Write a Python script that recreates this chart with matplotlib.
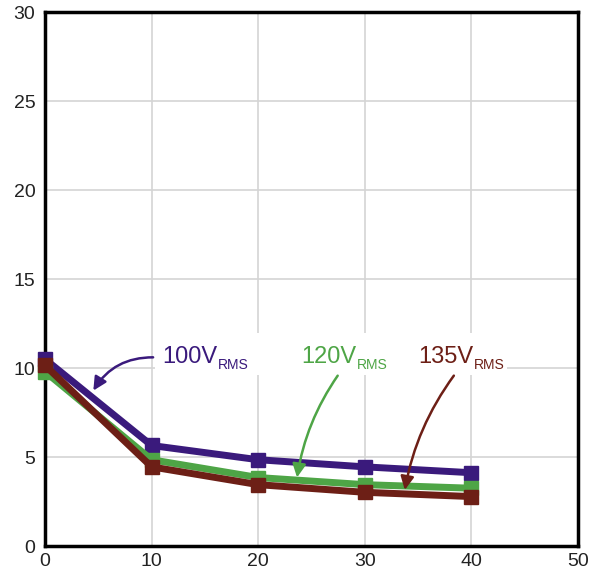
import matplotlib.pyplot as plt
from matplotlib.patches import FancyArrowPatch, Rectangle

plt.rcParams['font.family'] = ['Liberation Sans', 'DejaVu Sans']

x = [0, 10, 20, 30, 40]
v100 = [10.5, 5.65, 4.85, 4.45, 4.12]
v120 = [9.8, 4.85, 3.85, 3.45, 3.25]
v135 = [10.15, 4.45, 3.45, 3.02, 2.78]

c100 = '#3a1a7c'
c120 = '#4ea546'
c135 = '#6d1f16'

fig = plt.figure(figsize=(5.96, 5.73), dpi=100)
ax = fig.add_axes([0.0755, 0.047, 0.8945, 0.932])

ax.set_xlim(0, 50)
ax.set_ylim(0, 30)
ax.set_xticks(range(0, 51, 10))
ax.set_yticks(range(0, 31, 5))
ax.grid(True, color='#d4d4d4', linewidth=1.2)
ax.set_axisbelow(True)
ax.tick_params(length=0, labelsize=14, colors='#222222')
ax.tick_params(axis='y', pad=7)
ax.tick_params(axis='x', pad=5)
for s in ax.spines.values():
    s.set_linewidth(2.5)
    s.set_color('black')

# white box behind the labels
ax.add_patch(Rectangle((10.3, 9.6), 33.0, 2.37, facecolor='white',
                       edgecolor='none', zorder=1))

for y, c in [(v100, c100), (v120, c120), (v135, c135)]:
    ax.plot(x, y, color=c, linewidth=5, marker='s', markersize=10,
            clip_on=False, zorder=3)

def label(txt, tx, ty, c):
    t = ax.text(tx, ty, txt, color=c, fontsize=17, ha='left',
                va='baseline', zorder=4)
    ax.annotate('RMS', xy=(1, 0), xycoords=t, xytext=(0.5, -2.5),
                textcoords='offset points', color=c, fontsize=10,
                ha='left', va='bottom', zorder=4)

def arrow(start, end, c, rad):
    ax.add_patch(FancyArrowPatch(start, end,
                                 connectionstyle=f'arc3,rad={rad}',
                                 arrowstyle='-|>,head_length=8,head_width=4',
                                 color=c, linewidth=1.8, zorder=5))

label('100V', 10.95, 10.28, c100)
arrow((10.4, 10.6), (4.4, 8.6), c100, 0.3)

label('120V', 24.0, 10.28, c120)
arrow((27.6, 9.7), (23.6, 3.7), c120, 0.12)

label('135V', 35.0, 10.28, c135)
arrow((38.5, 9.7), (33.7, 3.0), c135, 0.12)

fig.savefig('out.png', dpi=100)
